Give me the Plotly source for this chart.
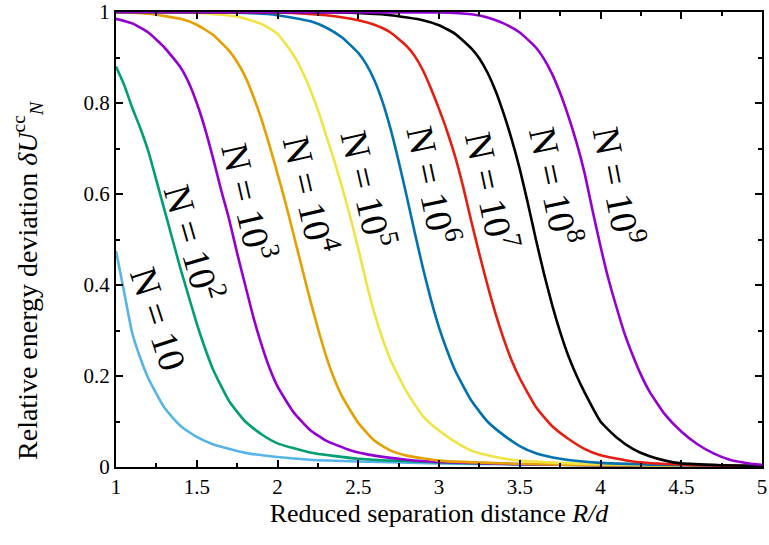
import plotly.graph_objects as go

# ---- data ----
R_N10 = [1.0, 1.05, 1.1, 1.15, 1.2, 1.3, 1.4, 1.5, 1.6, 1.8, 2.0, 2.2, 2.5, 3.0, 3.5, 4.0, 4.5, 5.0]
V_N10 = [0.475, 0.385, 0.295, 0.24, 0.195, 0.13, 0.09, 0.066, 0.05, 0.031, 0.022, 0.016, 0.012, 0.008, 0.006, 0.004, 0.003, 0.002]

R_N1e2 = [1.0, 1.05, 1.1, 1.15, 1.2, 1.25, 1.3, 1.35, 1.4, 1.45, 1.5, 1.55, 1.6, 1.7, 1.8, 1.9, 2.0, 2.2, 2.5, 3.0, 3.5, 4.0, 5.0]
V_N1e2 = [0.88, 0.84, 0.79, 0.745, 0.694, 0.63, 0.565, 0.5, 0.435, 0.375, 0.315, 0.262, 0.215, 0.145, 0.1, 0.072, 0.052, 0.032, 0.018, 0.01, 0.006, 0.004, 0.002]

R_N1e3 = [1.0, 1.1, 1.2, 1.3, 1.4, 1.45, 1.5, 1.55, 1.6, 1.65, 1.7, 1.75, 1.8, 1.85, 1.9, 1.95, 2.0, 2.1, 2.2, 2.3, 2.45, 2.6, 2.8, 3.0, 3.5, 4.0, 5.0]
V_N1e3 = [0.985, 0.975, 0.955, 0.922, 0.878, 0.845, 0.80, 0.745, 0.68, 0.61, 0.545, 0.47, 0.40, 0.33, 0.27, 0.218, 0.177, 0.12, 0.082, 0.058, 0.037, 0.025, 0.016, 0.011, 0.006, 0.004, 0.002]

R_N1e4 = [1.0, 1.2, 1.4, 1.5, 1.6, 1.7, 1.75, 1.8, 1.85, 1.9, 1.95, 2.0, 2.05, 2.1, 2.15, 2.2, 2.25, 2.3, 2.35, 2.4, 2.5, 2.6, 2.7, 2.8, 3.0, 3.5, 4.0, 5.0]
V_N1e4 = [1.0, 0.996, 0.985, 0.972, 0.95, 0.915, 0.89, 0.858, 0.815, 0.765, 0.707, 0.645, 0.58, 0.51, 0.44, 0.37, 0.305, 0.245, 0.195, 0.155, 0.097, 0.058, 0.036, 0.025, 0.014, 0.007, 0.004, 0.002]

R_N1e5 = [1.0, 1.5, 1.75, 1.9, 2.0, 2.1, 2.15, 2.2, 2.25, 2.3, 2.35, 2.4, 2.45, 2.5, 2.55, 2.6, 2.65, 2.7, 2.8, 2.9, 3.0, 3.1, 3.2, 3.35, 3.5, 4.0, 4.5, 5.0]
V_N1e5 = [1.0, 0.998, 0.99, 0.974, 0.952, 0.905, 0.872, 0.832, 0.785, 0.73, 0.675, 0.615, 0.55, 0.48, 0.405, 0.338, 0.282, 0.235, 0.165, 0.112, 0.08, 0.055, 0.036, 0.022, 0.014, 0.006, 0.003, 0.002]

R_N1e6 = [1.0, 1.8, 2.0, 2.2, 2.3, 2.4, 2.5, 2.55, 2.6, 2.65, 2.7, 2.75, 2.8, 2.85, 2.9, 2.95, 3.0, 3.05, 3.1, 3.2, 3.3, 3.4, 3.5, 3.6, 3.75, 4.0, 4.5, 5.0]
V_N1e6 = [1.0, 0.998, 0.993, 0.98, 0.966, 0.944, 0.91, 0.885, 0.85, 0.803, 0.743, 0.672, 0.595, 0.515, 0.438, 0.368, 0.307, 0.256, 0.212, 0.146, 0.10, 0.07, 0.046, 0.03, 0.018, 0.009, 0.004, 0.002]

R_N1e7 = [1.0, 2.0, 2.3, 2.5, 2.6, 2.7, 2.8, 2.85, 2.9, 2.95, 3.0, 3.05, 3.1, 3.15, 3.2, 3.25, 3.3, 3.35, 3.4, 3.45, 3.5, 3.6, 3.7, 3.8, 3.9, 4.0, 4.2, 4.5, 5.0]
V_N1e7 = [1.0, 0.999, 0.993, 0.982, 0.972, 0.955, 0.925, 0.903, 0.872, 0.832, 0.787, 0.738, 0.682, 0.615, 0.54, 0.468, 0.40, 0.337, 0.282, 0.234, 0.195, 0.132, 0.09, 0.062, 0.04, 0.026, 0.012, 0.005, 0.002]

R_N1e8 = [1.0, 2.4, 2.7, 2.9, 3.0, 3.1, 3.2, 3.25, 3.3, 3.35, 3.4, 3.45, 3.5, 3.55, 3.6, 3.65, 3.7, 3.75, 3.8, 3.85, 3.9, 4.0, 4.1, 4.2, 4.3, 4.4, 4.5, 4.75, 5.0]
V_N1e8 = [1.0, 0.999, 0.993, 0.982, 0.971, 0.952, 0.92, 0.898, 0.867, 0.827, 0.777, 0.72, 0.655, 0.58, 0.50, 0.425, 0.357, 0.297, 0.245, 0.202, 0.165, 0.10, 0.065, 0.04, 0.024, 0.014, 0.008, 0.004, 0.002]

R_N1e9 = [1.0, 3.0, 3.2, 3.3, 3.4, 3.5, 3.6, 3.65, 3.7, 3.75, 3.8, 3.85, 3.9, 3.95, 4.0, 4.05, 4.1, 4.15, 4.2, 4.25, 4.3, 4.4, 4.5, 4.6, 4.7, 4.8, 4.9, 5.0]
V_N1e9 = [1.0, 0.999, 0.995, 0.988, 0.975, 0.955, 0.922, 0.897, 0.864, 0.822, 0.772, 0.715, 0.648, 0.565, 0.485, 0.412, 0.35, 0.292, 0.245, 0.203, 0.168, 0.115, 0.078, 0.05, 0.03, 0.016, 0.009, 0.005]

SERIES_R = [R_N10, R_N1e2, R_N1e3, R_N1e4, R_N1e5, R_N1e6, R_N1e7, R_N1e8, R_N1e9]
SERIES_V = [V_N10, V_N1e2, V_N1e3, V_N1e4, V_N1e5, V_N1e6, V_N1e7, V_N1e8, V_N1e9]
SERIES_NAMES = ["N = 10", "N = 10<sup>2</sup>", "N = 10<sup>3</sup>", "N = 10<sup>4</sup>",
                "N = 10<sup>5</sup>", "N = 10<sup>6</sup>", "N = 10<sup>7</sup>",
                "N = 10<sup>8</sup>", "N = 10<sup>9</sup>"]
COLORS = ["#56b4e9", "#009e73", "#9400d3", "#e69f00", "#f0e442",
          "#0072b2", "#e51e10", "#000000", "#9400d3"]

X_TICKS = [1, 1.5, 2, 2.5, 3, 3.5, 4, 4.5, 5]
X_TICKTEXT = ["1", "1.5", "2", "2.5", "3", "3.5", "4", "4.5", "5"]
Y_TICKS = [0, 0.2, 0.4, 0.6, 0.8, 1]
Y_TICKTEXT = ["0", "0.2", "0.4", "0.6", "0.8", "1"]

X_TITLE = "Reduced separation distance <i>R/d</i>"
Y_TITLE = "Relative energy deviation <i>δU</i><sup>cc</sup><sub><i>N</i></sub>"

# label anchor positions (data coords) and angles
LABEL_X = [1.26, 1.49, 1.83, 2.21, 2.57, 2.97, 3.33, 3.73, 4.12]
LABEL_Y = [0.325, 0.495, 0.585, 0.60, 0.612, 0.622, 0.608, 0.618, 0.618]
LABEL_ANGLE = [72, 74, 77, 77, 77, 78, 78, 78, 79]

FONT = "Liberation Serif, Times New Roman, serif"

fig = go.Figure()
for r, v, name, c in zip(SERIES_R, SERIES_V, SERIES_NAMES, COLORS):
    fig.add_trace(go.Scatter(x=r, y=v, mode="lines", name=name,
                             line=dict(color=c, width=2.6, shape="spline", smoothing=0.5),
                             showlegend=False))

for lx, ly, name, ang in zip(LABEL_X, LABEL_Y, SERIES_NAMES, LABEL_ANGLE):
    fig.add_annotation(x=lx, y=ly, xref="x", yref="y", text=name, showarrow=False,
                       textangle=ang, font=dict(family=FONT, size=38, color="black"))

# y-axis title as a rotated annotation (placed like the reference)
fig.add_annotation(x=-0.137, y=0.41, xref="paper", yref="paper", text=Y_TITLE,
                   showarrow=False, textangle=-90, xanchor="center", yanchor="middle",
                   font=dict(family=FONT, size=28, color="black"))

axis_common = dict(
    showline=True, linecolor="black", linewidth=2, mirror="allticks",
    ticks="inside", ticklen=7, tickwidth=1.5, tickcolor="black",
    showgrid=False, zeroline=False, ticklabeloverflow="allow",
    tickfont=dict(family=FONT, size=21, color="black"),
)

fig.update_xaxes(range=[1, 5], tickmode="array", tickvals=X_TICKS, ticktext=X_TICKTEXT,
                 minor=dict(tickvals=[1.25, 1.75, 2.25, 2.75, 3.25, 3.75, 4.25, 4.75],
                            ticks="inside", ticklen=4, tickcolor="black", showgrid=False),
                 title=dict(text=X_TITLE,
                            font=dict(family=FONT, size=26, color="black"), standoff=6),
                 **axis_common)
fig.update_yaxes(range=[0, 1], tickmode="array", tickvals=Y_TICKS, ticktext=Y_TICKTEXT,
                 minor=dict(tickvals=[0.1, 0.3, 0.5, 0.7, 0.9],
                            ticks="inside", ticklen=4, tickcolor="black", showgrid=False),
                 **axis_common)

fig.update_layout(
    width=769, height=545,
    margin=dict(l=116, r=7, t=12, b=78, autoexpand=False),
    paper_bgcolor="white", plot_bgcolor="white",
    font=dict(family=FONT, color="black"),
)

fig.write_html("out.html", config={"displayModeBar": False},
               post_script="document.body.style.margin='0px';")
